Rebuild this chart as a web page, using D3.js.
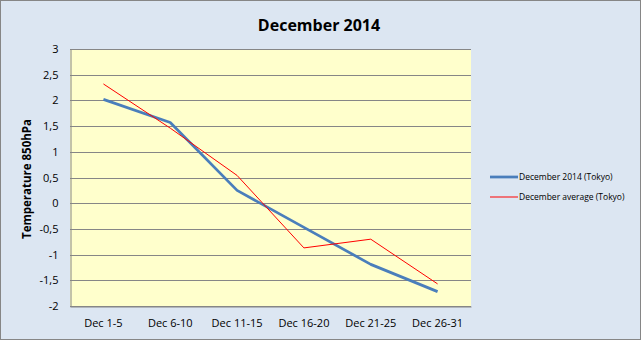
<!DOCTYPE html>
<html><head><meta charset="utf-8">
<script src="https://cdn.jsdelivr.net/npm/d3@7"></script>
<style>html,body{margin:0;padding:0;background:#fff;}svg{display:block;}</style>
</head><body>
<script>
const categories = ["Dec 1-5","Dec 6-10","Dec 11-15","Dec 16-20","Dec 21-25","Dec 26-31"];
const dec2014 = [2.02, 1.57, 0.25, -0.47, -1.19, -1.72];
const decAvg = [2.32, 1.46, 0.54, -0.87, -0.70, -1.57];
const yTicks = [3, 2.5, 2, 1.5, 1, 0.5, 0, -0.5, -1, -1.5, -2];
const seriesNames = ["December 2014 (Tokyo)", "December average (Tokyo)"];

const W = 641, H = 341;
const font = "'Open Sans', 'Liberation Sans', sans-serif";
const svg = d3.select("body").append("svg").attr("width", W).attr("height", H);
svg.append("rect").attr("x",0.5).attr("y",0.5).attr("width",W-1).attr("height",H-2)
  .attr("fill","#dce6f2").attr("stroke","#868686");

const pl = 70, pr = 471, pt = 49, pb = 306;
const x = d3.scaleBand().domain(categories).range([pl, pr]);
const y = d3.scaleLinear().domain([-2, 3]).range([pb, pt]);

svg.append("rect").attr("x",pl).attr("y",pt).attr("width",pr-pl).attr("height",pb-pt).attr("fill","#ffffcc");

svg.append("g").selectAll("line").data(yTicks).join("line")
  .attr("x1",pl).attr("x2",pr)
  .attr("y1",d=>Math.round(y(d))+0.5).attr("y2",d=>Math.round(y(d))+0.5)
  .attr("stroke","#868686").attr("stroke-width",1);

// axes
const fmt = d => String(d).replace(".", ",");
const yAxis = svg.append("g").attr("transform",`translate(${pl+0.5},0)`)
  .call(d3.axisLeft(y).tickValues(yTicks).tickFormat(fmt).tickSize(0).tickPadding(12));
yAxis.select(".domain").attr("stroke","#868686");
yAxis.selectAll("text").attr("font-family",font).attr("font-size",11).attr("fill","#000");

const xAxis = svg.append("g").attr("transform",`translate(0,${pb+0.5})`)
  .call(d3.axisBottom(x).tickSize(0).tickPadding(13));
xAxis.select(".domain").attr("stroke","#868686");
xAxis.selectAll("text").attr("font-family",font).attr("font-size",11).attr("fill","#000");

const line = d3.line().x((d,i)=>x(categories[i])+x.bandwidth()/2).y(d=>y(d));
svg.append("path").datum(dec2014).attr("d",line).attr("fill","none")
  .attr("stroke","#4a7ebb").attr("stroke-width",2.75).attr("stroke-linejoin","round");
svg.append("path").datum(decAvg).attr("d",line).attr("fill","none")
  .attr("stroke","#ff0000").attr("stroke-width",1);

// title
svg.append("text").attr("x",319).attr("y",31).attr("text-anchor","middle")
  .attr("font-family",font).attr("font-weight","bold").attr("font-size",16).text("December 2014");
svg.append("text").attr("transform","translate(31,179) rotate(-90)").attr("text-anchor","middle")
  .attr("font-family",font).attr("font-weight","bold").attr("font-size",11.5).text("Temperature 850hPa");

// legend
const leg = svg.append("g");
const legY = [177, 197];
const legColors = ["#4a7ebb", "#ff0000"];
const legW = [2.75, 1];
seriesNames.forEach((n,i)=>{
  leg.append("line").attr("x1",490).attr("x2",518).attr("y1",legY[i]).attr("y2",legY[i])
    .attr("stroke",legColors[i]).attr("stroke-width",legW[i]);
  leg.append("text").attr("x",519).attr("y",legY[i]+3).attr("font-family",font)
    .attr("font-size",8.5).attr("fill","#000").text(n);
});
</script>
</body></html>
